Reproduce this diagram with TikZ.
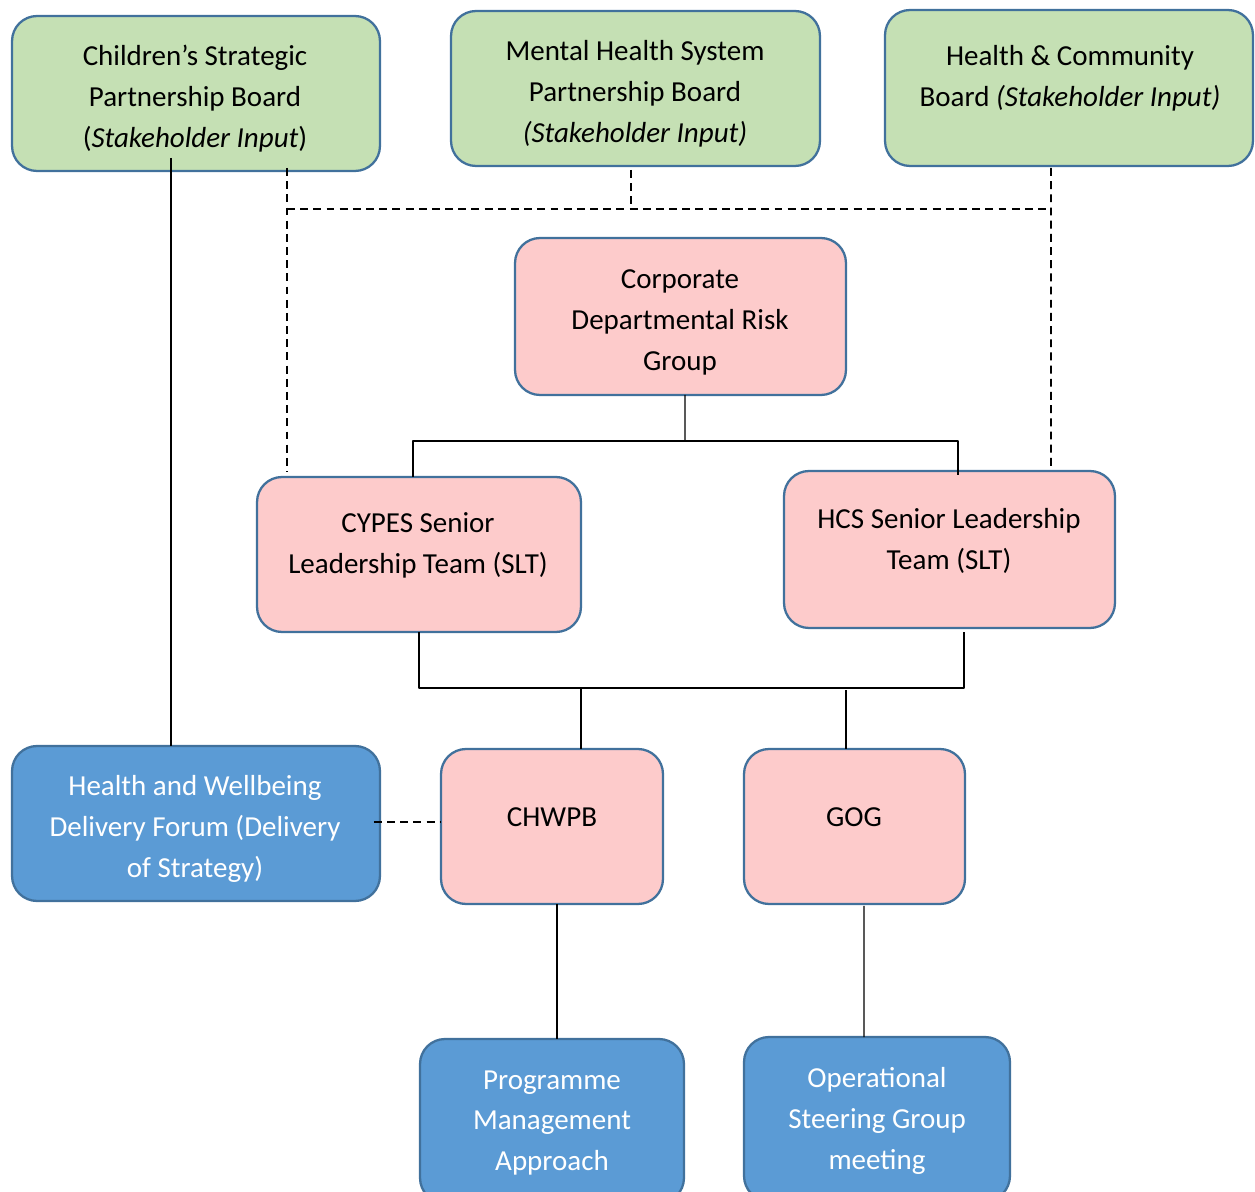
\documentclass[tikz,border=0pt]{standalone}
\usepackage{fontspec}
\setmainfont{Carlito}
\usepackage{xcolor}
\usepackage{tikz}
\usetikzlibrary{calc}
\definecolor{boardgreen}{HTML}{C5E0B4}
\definecolor{grouppink}{HTML}{FDCBCB}
\definecolor{forumblue}{HTML}{5B9BD5}
\definecolor{edgeblue}{HTML}{41719C}

\begin{document}
\begin{tikzpicture}[line cap=butt,line join=round,x=0.02cm,y=-0.02cm,
  box/.style={draw=edgeblue,line width=1.3pt,rounded corners=0.5cm,inner sep=0pt,outer sep=0pt,minimum height=3.1cm},
  greenbox/.style={box,fill=boardgreen},
  pinkbox/.style={box,fill=grouppink},
  bluebox/.style={box,fill=forumblue},
  txt/.style={align=center,inner sep=0pt,font=\fontsize{16.5}{23.3}\selectfont},
  link/.style={line width=0.7pt},
  dashlink/.style={line width=0.9pt,dash pattern=on 4.5pt off 3pt}]
\path[use as bounding box] (0,0) rectangle (1255,1192);
\clip (0,0) rectangle (1255,1192);
% boards
\node[greenbox,minimum width=7.36cm] (cspb) at (196,93.5) {};
\node[greenbox,minimum width=7.38cm] (mhspb) at (635.5,88.5) {};
\node[greenbox,minimum width=7.36cm,minimum height=3.12cm] (hcb) at (1069,88) {};
\node[txt] (cspbtext) at (195,99) {Children’s Strategic\\Partnership Board\\(\textit{Stakeholder Input})};
\node[txt] (mhspbtext) at (635,94) {Mental Health System\\Partnership Board\\\textit{(Stakeholder Input)}};
\node[txt] (hcbtext) at (1070,78.5) {Health \& Community\\Board \textit{(Stakeholder Input)}};
% groups
\node[pinkbox,minimum width=6.62cm,minimum height=3.14cm] (cdrg) at (680.5,316.5) {};
\node[pinkbox,minimum width=6.48cm] (cypes) at (419,554.5) {};
\node[pinkbox,minimum width=6.62cm,minimum height=3.14cm] (hcs) at (949.5,549.5) {};
\node[pinkbox,minimum width=4.44cm] (chwpb) at (552,826.5) {};
\node[pinkbox,minimum width=4.42cm] (gog) at (854.5,826.5) {};
\node[txt] (cdrgtext) at (680,322) {Corporate\\Departmental Risk\\Group};
\node[txt] (cypestext) at (418,545.5) {CYPES Senior\\Leadership Team (SLT)};
\node[txt] (hcstext) at (949,540.5) {HCS Senior Leadership\\Team (SLT)};
\node[txt] (chwpbtext) at (552,817) {CHWPB};
\node[txt] (gogtext) at (854,817) {GOG};
% delivery
\node[bluebox,minimum width=7.36cm] (hwdf) at (196,823.5) {};
\node[bluebox,minimum width=5.28cm,minimum height=3.28cm] (pma) at (552,1121) {};
\node[bluebox,minimum width=5.32cm,minimum height=3.28cm] (osg) at (877,1119) {};
\node[txt,text=white] (hwdftext) at (195,829) {Health and Wellbeing\\Delivery Forum (Delivery\\of Strategy)};
\node[txt,text=white] (pmatext) at (552,1123) {Programme\\Management\\Approach};
\node[txt,text=white] (osgtext) at (877,1121) {Operational\\Steering Group\\meeting};
% stakeholder input
\coordinate (dashleft) at (287,209);
\coordinate (dashright) at (1051,209);
\draw[dashlink] (dashleft) -- (dashright);
\draw[dashlink] ($(cspb.south)+(91,-3)$) -- ($(cypes.north)+(-132,-5)$);
\draw[dashlink] ($(mhspb.south)+(-4.5,4)$) -- ($(mhspb.south)+(-4.5,43)$);
\draw[dashlink] ($(hcb.south)+(-18,2)$) -- ($(hcs.north)+(101.5,-1)$);
\draw[dashlink] ($(hwdf.east)+(-6,-1.5)$) -- ($(chwpb.west)+(0,-4.5)$);
% reporting lines
\draw[link] ($(cspb.south)+(-25,-13)$) -- ($(hwdf.north)+(-25,0)$);
\coordinate (topsplit) at (685,441);
\draw[link] ($(cdrg.south)+(4.5,0)$) -- (topsplit);
\draw[link] ($(cypes.north)+(-6,0)$) |- (topsplit) -| ($(hcs.north)+(8.5,4)$);
\coordinate (midbar) at (581,688);
\draw[link] (cypes.south) |- (midbar) -| ($(hcs.south)+(14.5,4)$);
\draw[link] (midbar) -- ($(chwpb.north)+(29,0)$);
\draw[link] ($(gog.north)+(-8.5,-59)$) -- ($(gog.north)+(-8.5,0)$);
\draw[link] ($(chwpb.south)+(5,0)$) -- ($(pma.north)+(5,0)$);
\draw[link] ($(gog.south)+(9.5,2)$) -- ($(osg.north)+(-13,0)$);
\end{tikzpicture}
\end{document}
